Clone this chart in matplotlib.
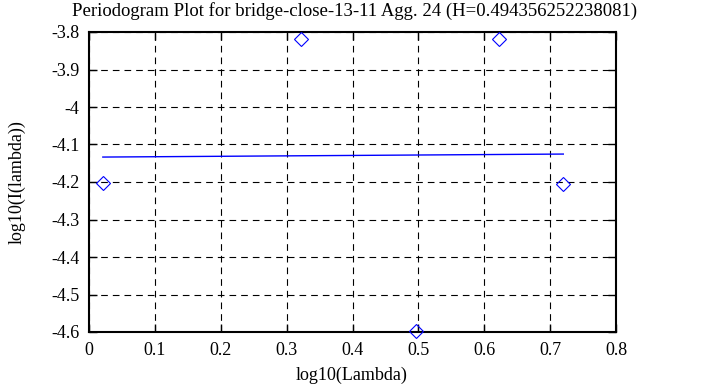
import matplotlib
matplotlib.use("Agg")
import matplotlib.pyplot as plt
import numpy as np

plt.rcParams['font.family'] = ['Liberation Serif', 'DejaVu Serif']

title = "Periodogram Plot for bridge-close-13-11 Agg. 24 (H=0.494356252238081)"
x_pts = [0.021, 0.322, 0.497, 0.623, 0.720]
y_pts = [-4.203, -3.819, -4.597, -3.819, -4.205]
fit_x = [0.021, 0.720]
fit_y = [-4.1335, -4.1255]
xticks = [0, 0.1, 0.2, 0.3, 0.4, 0.5, 0.6, 0.7, 0.8]
xtick_labels = ["0", "0.1", "0.2", "0.3", "0.4", "0.5", "0.6", "0.7", "0.8"]
yticks = [-3.8, -3.9, -4.0, -4.1, -4.2, -4.3, -4.4, -4.5, -4.6]
ytick_labels = ["-3.8", "-3.9", "-4", "-4.1", "-4.2", "-4.3", "-4.4", "-4.5", "-4.6"]

fig = plt.figure(figsize=(7.05, 3.87), dpi=100)
ax = fig.add_axes([89/705, 1-332/387, (616-89)/705, (332-32)/387])

ax.plot(x_pts, y_pts, linestyle='none', marker='D', ms=7, mfc='none', mec='#0000ff', mew=0.8, zorder=3, clip_on=False)
ax.plot(fit_x, fit_y, color='#0000ff', lw=1, zorder=3)

ax.set_xlim(0, 0.8)
ax.set_ylim(-4.6, -3.8)
ax.set_xticks(xticks)
ax.set_xticklabels(xtick_labels)
ax.set_yticks(yticks)
ax.set_yticklabels(ytick_labels)
ax.grid(True, color='black', linestyle=(0, (6, 4.5)), lw=0.8)
ax.tick_params(direction='in', length=6, width=1, top=True, right=True, labelsize=13)
ax.tick_params(axis='y', pad=7)
ax.tick_params(axis='x', pad=7)
for s in ax.spines.values():
    s.set_linewidth(1.5)

fig.text(0.5 * (50 + 660) / 705, 1 - 11/387, title, fontsize=13.5, ha='center', va='center')
ax.set_xlabel("log10(Lambda)", fontsize=13, va='center')
ax.set_ylabel("log10(I(lambda))", fontsize=13, va='center')
ax.xaxis.set_label_coords((352 - 89) / 527, (332 - 375) / 300)
ax.yaxis.set_label_coords((17 - 89) / 527, 0.5)

fig.savefig("out.png", dpi=100)
